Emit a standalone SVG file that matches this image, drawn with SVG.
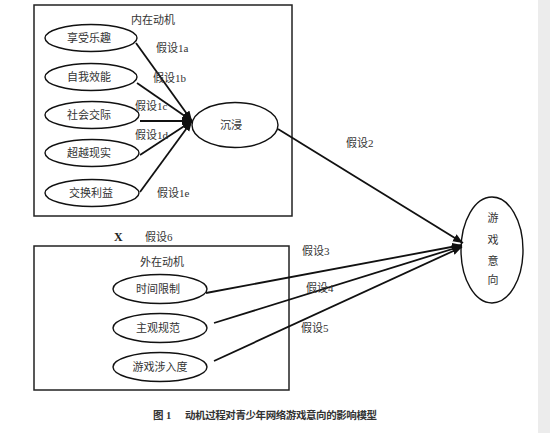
<svg xmlns="http://www.w3.org/2000/svg" width="550" height="433" viewBox="0 0 550 433">
<style>
.box{fill:none;stroke:#222;stroke-width:1.5}
.node{fill:#fff;stroke:#111;stroke-width:1.4}
.t{font-family:"Liberation Serif","Noto Sans CJK SC",serif;font-size:11px;fill:#333}
.c{text-anchor:middle}
.ln{stroke:#111;stroke-width:1.8;fill:none}
.cap{font-family:"Liberation Serif","Noto Sans CJK SC",serif;font-size:10.5px;font-weight:bold;fill:#333}
</style>
<defs>
<marker id="ah" markerUnits="userSpaceOnUse" markerWidth="12" markerHeight="10" refX="10" refY="4" orient="auto">
<path d="M0,0 L10,4 L0,8 z" fill="#111"/>
</marker>
</defs>
<rect x="0" y="0" width="550" height="433" fill="#fff"/>
<rect x="538" y="0" width="12" height="433" fill="#ececec"/>
<g id="inner-box">
<rect class="box" x="34" y="5" width="258" height="211"/>
<text class="t c" x="153" y="24">内在动机</text>
</g>
<g id="outer-box">
<rect class="box" x="34" y="246" width="255" height="144"/>
<text class="t c" x="162" y="266">外在动机</text>
</g>
<g id="n1"><ellipse class="node" cx="91" cy="38" rx="46" ry="13.5"/><text class="t c" x="89" y="42">享受乐趣</text></g>
<g id="n2"><ellipse class="node" cx="91" cy="77" rx="46" ry="13.5"/><text class="t c" x="89" y="81">自我效能</text></g>
<g id="n3"><ellipse class="node" cx="92" cy="115" rx="47" ry="13.5"/><text class="t c" x="89" y="119">社会交际</text></g>
<g id="n4"><ellipse class="node" cx="92" cy="153" rx="47" ry="13.5"/><text class="t c" x="89" y="157">超越现实</text></g>
<g id="n5"><ellipse class="node" cx="92" cy="193" rx="47" ry="13.5"/><text class="t c" x="91" y="197">交换利益</text></g>
<g id="immersion"><ellipse class="node" cx="235" cy="125" rx="43" ry="22.5"/><text class="t c" x="231" y="129">沉浸</text></g>
<g id="m1"><ellipse class="node" cx="160" cy="289" rx="47" ry="14.5"/><text class="t c" x="158" y="293">时间限制</text></g>
<g id="m2"><ellipse class="node" cx="160" cy="328" rx="47" ry="14.5"/><text class="t c" x="158" y="332">主观规范</text></g>
<g id="m3"><ellipse class="node" cx="160" cy="367" rx="47" ry="14.5"/><text class="t c" x="160" y="371">游戏涉入度</text></g>
<g id="intention"><ellipse class="node" cx="492" cy="250" rx="31" ry="53"/>
<text class="t c" x="493" y="222">游</text><text class="t c" x="493" y="244">戏</text><text class="t c" x="493" y="265">意</text><text class="t c" x="493" y="284">向</text></g>
<g id="connectors">
<line class="ln" x1="136" y1="43" x2="192" y2="121" marker-end="url(#ah)"/>
<line class="ln" x1="137" y1="83" x2="192" y2="121" marker-end="url(#ah)"/>
<line class="ln" x1="140" y1="121" x2="192" y2="121" marker-end="url(#ah)"/>
<line class="ln" x1="140" y1="155" x2="192" y2="121" marker-end="url(#ah)"/>
<line class="ln" x1="140" y1="192" x2="192" y2="121" marker-end="url(#ah)"/>
<line class="ln" x1="278" y1="129" x2="463" y2="243" marker-end="url(#ah)"/>
<line class="ln" x1="206" y1="293" x2="462" y2="245" marker-end="url(#ah)"/>
<line class="ln" x1="214" y1="323" x2="462" y2="246" marker-end="url(#ah)"/>
<line class="ln" x1="214" y1="361" x2="462" y2="247" marker-end="url(#ah)"/>
</g>
<g id="labels">
<text class="t" x="156" y="52">假设1a</text>
<text class="t" x="153" y="82">假设1b</text>
<text class="t" x="135" y="110">假设1c</text>
<text class="t" x="135" y="139">假设1d</text>
<text class="t" x="157" y="197">假设1e</text>
<text class="t" x="346" y="147">假设2</text>
<text class="t" x="302" y="255">假设3</text>
<text class="t" x="306" y="292">假设4</text>
<text class="t" x="301" y="332">假设5</text>
<text x="114" y="241" style="font-family:'Liberation Serif',serif;font-size:12px;font-weight:bold;fill:#222">X</text>
<text class="t" x="145" y="241">假设6</text>
</g>
<g id="caption">
<text class="cap" x="153" y="419">图 1</text>
<text class="cap" x="185" y="419" textLength="192" lengthAdjust="spacing">动机过程对青少年网络游戏意向的影响模型</text>
</g>
</svg>
